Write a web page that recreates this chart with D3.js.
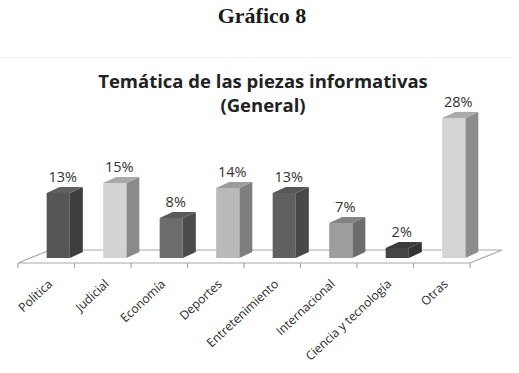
<!DOCTYPE html>
<html>
<head>
<meta charset="utf-8">
<script src="https://cdn.jsdelivr.net/npm/d3@7"></script>
<style>
  body { margin: 0; background: #fff; }
  svg { display: block; }
</style>
</head>
<body>
<div class="chart"></div>
<script>
// --- Data ---
const categories = ["Política", "Judicial", "Economía", "Deportes", "Entretenimiento", "Internacional", "Ciencia y tecnología", "Otras"];
const values = [13, 15, 8, 14, 13, 7, 2, 28];
const valueLabels = ["13%", "15%", "8%", "14%", "13%", "7%", "2%", "28%"];

// grey shades per bar: front / side / top
const frontColor = ["#565656", "#d3d3d3", "#6c6c6c", "#b9b9b9", "#606060", "#9d9d9d", "#444444", "#d4d4d4"];
const sideColor  = ["#3e3e3e", "#8a8a8a", "#4a4a4a", "#7e7e7e", "#474747", "#6c6c6c", "#323232", "#8c8c8c"];
const topColor   = ["#5f5f5f", "#a9a9a9", "#5a5a5a", "#9c9c9c", "#575757", "#828282", "#3c3c3c", "#aaaaaa"];

const width = 519, height = 373;

// floor geometry
const floorLeft = 18, floorRight = 470, floorY = 263;
const floorDx = 32, floorDy = -13;
// bar placement inside floor depth
const offX = 12, offY = -5;
const barDx = 13, barDy = -6;

const svg = d3.select(".chart").append("svg")
  .attr("width", width)
  .attr("height", height);

const x = d3.scaleBand().domain(categories).range([floorLeft, floorRight]);
const y = d3.scaleLinear().domain([0, 30]).range([floorY, floorY - 150]);
const barW = x.bandwidth() * 0.41;

// --- Titles ---
svg.append("text")
  .attr("x", 262).attr("y", 23)
  .attr("text-anchor", "middle")
  .style("font-family", "'Liberation Serif', 'DejaVu Serif', serif")
  .style("font-size", "22px")
  .style("font-weight", "600")
  .style("fill", "#1a1a1a")
  .text("Gráfico 8");

svg.append("line")
  .attr("x1", 0).attr("x2", 512)
  .attr("y1", 57.5).attr("y2", 57.5)
  .style("stroke", "#eeeeee");

const title = svg.append("text")
  .attr("text-anchor", "middle")
  .style("font-family", "'Open Sans', sans-serif")
  .style("font-size", "18.5px")
  .style("font-weight", "bold")
  .style("fill", "#222");
title.append("tspan").attr("x", 263).attr("y", 88).text("Temática de las piezas informativas");
title.append("tspan").attr("x", 263).attr("y", 112).text("(General)");

// --- Floor ---
const floor = svg.append("g");
floor.append("polygon")
  .attr("points", [
    [floorLeft, floorY], [floorRight, floorY],
    [floorRight + floorDx, floorY + floorDy], [floorLeft + floorDx, floorY + floorDy]
  ].map(p => p.join(",")).join(" "))
  .style("fill", "#fff")
  .style("stroke", "#a8a8a8")
  .style("stroke-width", 1.2);

// ticks
floor.selectAll(".tick")
  .data(categories.concat([null]))
  .join("line")
  .attr("x1", (d, i) => floorLeft + i * x.step())
  .attr("x2", (d, i) => floorLeft + i * x.step())
  .attr("y1", floorY).attr("y2", floorY + 5)
  .style("stroke", "#a8a8a8")
  .style("stroke-width", 1.2);

// --- Bars ---
const data = categories.map((c, i) => ({ c, v: values[i], label: valueLabels[i], i }));

const bars = svg.selectAll(".bar").data(data).join("g").attr("class", "bar");

const x0 = d => x(d.c) + offX + (x.bandwidth() - barW) / 2;
const x1 = d => x0(d) + barW;
const yTop = d => y(d.v) + offY;
const yBot = () => y(0) + offY;
const pts = arr => arr.map(p => p.join(",")).join(" ");

bars.append("polygon")
  .attr("points", d => pts([
    [x1(d), yTop(d)], [x1(d) + barDx, yTop(d) + barDy],
    [x1(d) + barDx, yBot() + barDy], [x1(d), yBot()]
  ]))
  .style("fill", d => sideColor[d.i]);

bars.append("polygon")
  .attr("points", d => pts([
    [x0(d), yTop(d)], [x0(d) + barDx, yTop(d) + barDy],
    [x1(d) + barDx, yTop(d) + barDy], [x1(d), yTop(d)]
  ]))
  .style("fill", d => topColor[d.i]);

bars.append("rect")
  .attr("x", d => x0(d))
  .attr("y", d => yTop(d))
  .attr("width", barW)
  .attr("height", d => yBot() - yTop(d))
  .style("fill", d => frontColor[d.i]);

// value labels
bars.append("text")
  .attr("x", d => x0(d) + barW / 2 + barDx / 2 - 2)
  .attr("y", d => yTop(d) + barDy - 5)
  .attr("text-anchor", "middle")
  .style("font-family", "'Open Sans', sans-serif")
  .style("font-size", "14.5px")
  .style("fill", "#333")
  .text(d => d.label);

// category labels
svg.selectAll(".cat")
  .data(categories)
  .join("text")
  .attr("class", "cat")
  .attr("text-anchor", "end")
  .attr("transform", d => `translate(${x(d) + x.bandwidth() / 2 + 7},${floorY + 22}) rotate(-43)`)
  .style("font-family", "'Open Sans', sans-serif")
  .style("font-size", "12.2px")
  .style("fill", "#2a2a2a")
  .text(d => d);
</script>
</body>
</html>
